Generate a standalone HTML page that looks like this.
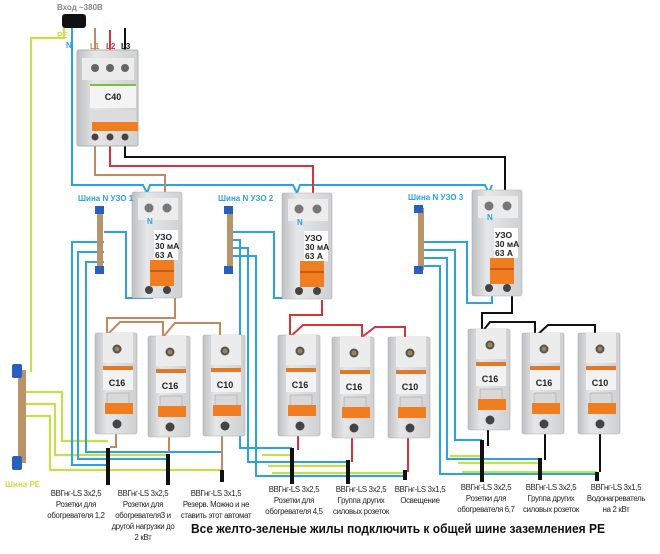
<!DOCTYPE html>
<html><head><meta charset="utf-8"><style>
html,body{margin:0;padding:0;background:#fff;}
svg{display:block;font-family:"Liberation Sans","DejaVu Sans",sans-serif;}
</style></head><body>
<svg width="660" height="554" viewBox="0 0 660 554" xmlns="http://www.w3.org/2000/svg">
<defs>
<linearGradient id="gb" x1="0" x2="1" y1="0" y2="0">
<stop offset="0" stop-color="#bfc0c2"/><stop offset="0.3" stop-color="#e6e7e8"/><stop offset="1" stop-color="#cfd0d2"/></linearGradient>
<g id="b1">
<rect x="0" y="0" width="42" height="101" rx="2" fill="url(#gb)" stroke="#b0b0b0" stroke-width="0.6"/>
<rect x="8" y="0" width="30" height="30" fill="#ececec"/>
<circle cx="22" cy="16" r="4.5" fill="#555"/><circle cx="22" cy="16" r="2.5" fill="#a08050"/>
<rect x="8" y="33" width="30" height="4" fill="#e07a2a"/>
<rect x="8" y="37" width="30" height="20" fill="#f2f2f2"/>
<rect x="12" y="60" width="22" height="12" fill="#d8d8d8" stroke="#999" stroke-width="0.5"/>
<rect x="10" y="70" width="28" height="11" fill="#f07d1f"/>
<circle cx="22" cy="91" r="4.5" fill="#444"/>
</g>
<g id="b2">
<rect x="0" y="0" width="50" height="106" rx="2" fill="url(#gb)" stroke="#b0b0b0" stroke-width="0.6"/>
<rect x="6" y="6" width="40" height="22" fill="#ececec"/>
<circle cx="17" cy="16" r="4.5" fill="#777"/><circle cx="35" cy="16" r="4.5" fill="#777"/>
<rect x="22" y="38" width="24" height="30" fill="#fff"/>
<rect x="18" y="68" width="24" height="26" fill="#f07d1f"/>
<rect x="18" y="78" width="24" height="2" fill="#c95c10"/>
<circle cx="17" cy="98" r="4" fill="#444"/><circle cx="35" cy="98" r="4" fill="#444"/>
</g>
</defs>

<g fill="none" stroke="#c5e04a" stroke-width="2.2">
<path d="M64 28 V38 H31 V372"/>
<path d="M26 392 H62 V441 H108"/>
<path d="M26 404 H55 V455 H168"/>
<path d="M26 416 H50 V470 H222"/>
<path d="M262 455 H292 M268 466 H348 M272 473 H405"/>
<path d="M450 456 H482 M458 463 H540 M462 472 H597"/>
</g>

<g fill="none" stroke="#2aa3e0" stroke-width="2">
<path d="M72 28 V185 H143 L147 193 L150 185 H293 L297 193 L300 185 H485 L489 193 L492 185"/>
<path d="M104 232 H126 V298 H152 V292"/>
<path d="M104 242 H72 V465 H108"/>
<path d="M104 252 H78 V459 H168"/>
<path d="M104 262 H86 V452 H222"/>
<path d="M233 232 H274 V298 H300 V292"/>
<path d="M233 240 H240 V448 H292 M233 248 H248 V462 H348 M233 256 H256 V476 H405"/>
<path d="M424 242 H467 V303 H492 V296"/>
<path d="M424 250 H455 V440 H482 M424 258 H447 V459 H540 M424 266 H440 V474 H597"/>
</g>

<g fill="none" stroke="#c08a5e" stroke-width="2">
<path d="M95 140 V175 H165 V195"/>
<path d="M175 298 V318 H107 V335 L120 322 H163 V337 L175 323 H220 V337"/>
<path d="M116 434 V447 H110 M169 437 V452 M222 436 V470"/>
</g>
<g fill="none" stroke="#d8333a" stroke-width="2">
<path d="M110 140 V166 H313 V195"/>
<path d="M322 300 V315 H290 V337 L303 325 H362 V337 L375 327 H405 V337"/>
<path d="M298 434 V450 M352 436 V462 M408 436 V472"/>
</g>
<g fill="none" stroke="#111" stroke-width="2">
<path d="M125 28 V140 M125 140 V157 H505 V192"/>
<path d="M512 296 V313 H482 V332 L490 322 H535 V337 L548 325 H595 V337"/>
<path d="M488 430 V446 M545 433 V460 M600 433 V472"/>
</g>
<path d="M95 28 V52" stroke="#c08a5e" stroke-width="2" fill="none"/>
<path d="M110 30 V52" stroke="#d8333a" stroke-width="2"/>

<rect x="62" y="14" width="24" height="14" rx="3" fill="#111"/>
<text x="57" y="10" font-size="8" fill="#888" font-weight="bold">Вход ~380В</text>
<text x="57" y="38" font-size="8" fill="#c5e04a" font-weight="bold">PE</text>
<text x="66" y="48" font-size="8" fill="#2aa3e0" font-weight="bold">N</text>
<text x="90" y="49" font-size="8" fill="#c08a5e" font-weight="bold">L1</text>
<text x="106" y="49" font-size="8" fill="#d8333a" font-weight="bold">L2</text>
<text x="121" y="49" font-size="8" fill="#111" font-weight="bold">L3</text>

<rect x="77" y="50" width="61" height="96" rx="2" fill="url(#gb)" stroke="#b0b0b0"/>
<rect x="82" y="58" width="52" height="22" fill="#ececec"/>
<circle cx="95" cy="68" r="4" fill="#666"/><circle cx="110" cy="68" r="4" fill="#666"/><circle cx="125" cy="68" r="4" fill="#666"/>
<rect x="90" y="84" width="46" height="2" fill="#7bbf3a"/>
<rect x="90" y="86" width="46" height="22" fill="#f4f4f4"/>
<text x="113" y="100" font-size="9" font-weight="bold" text-anchor="middle" fill="#222">C40</text>
<rect x="92" y="110" width="44" height="14" fill="#dcdcdc"/>
<rect x="92" y="122" width="46" height="9" fill="#f07d1f"/>
<circle cx="95" cy="137" r="3.5" fill="#444"/><circle cx="110" cy="137" r="3.5" fill="#444"/><circle cx="125" cy="137" r="3.5" fill="#444"/>

<use href="#b2" x="132" y="192"/>
<use href="#b2" x="282" y="193"/>
<use href="#b2" x="472" y="190"/>
<g font-size="8.5" font-weight="bold" fill="#222">
<text x="155" y="240">УЗО</text><text x="155" y="249">30 мА</text><text x="155" y="258">63 А</text>
<text x="305" y="241">УЗО</text><text x="305" y="250">30 мА</text><text x="305" y="259">63 А</text>
<text x="495" y="238">УЗО</text><text x="495" y="247">30 мА</text><text x="495" y="256">63 А</text>
</g>
<g font-size="8" font-weight="bold" fill="#2aa3e0">
<text x="147" y="224">N</text><text x="297" y="225">N</text><text x="487" y="220">N</text>
<text x="78" y="201">Шина N УЗО 1</text><text x="218" y="201">Шина N УЗО 2</text><text x="408" y="200">Шина N УЗО 3</text>
</g>

<g>
<rect x="97" y="210" width="6" height="62" fill="#b89468"/><rect x="95" y="206" width="9" height="8" fill="#2a5fbf"/><rect x="95" y="266" width="9" height="8" fill="#2a5fbf"/>
<rect x="227" y="210" width="6" height="62" fill="#b89468"/><rect x="224" y="206" width="9" height="8" fill="#2a5fbf"/><rect x="224" y="266" width="9" height="8" fill="#2a5fbf"/>
<rect x="418" y="208" width="6" height="62" fill="#b89468"/><rect x="414" y="205" width="9" height="8" fill="#2a5fbf"/><rect x="414" y="266" width="9" height="8" fill="#2a5fbf"/>
<rect x="18" y="370" width="8" height="93" fill="#b89468"/><rect x="12" y="364" width="10" height="14" rx="2" fill="#2a5fbf"/><rect x="12" y="456" width="10" height="14" rx="2" fill="#2a5fbf"/>
</g>
<text x="5" y="487" font-size="8" font-weight="bold" fill="#c5e04a">Шина PE</text>

<use href="#b1" x="95" y="333"/><use href="#b1" x="148" y="336"/><use href="#b1" x="203" y="335"/>
<use href="#b1" x="278" y="335"/><use href="#b1" x="332" y="337"/><use href="#b1" x="388" y="337"/>
<use href="#b1" x="468" y="329"/><use href="#b1" x="522" y="333"/><use href="#b1" x="578" y="333"/>
<g font-size="9" font-weight="bold" fill="#222" text-anchor="middle">
<text x="117" y="386">C16</text><text x="170" y="389">C16</text><text x="225" y="388">C10</text>
<text x="300" y="388">C16</text><text x="354" y="390">C16</text><text x="410" y="390">C10</text>
<text x="490" y="382">C16</text><text x="544" y="386">C16</text><text x="600" y="386">C10</text>
</g>

<g stroke="#111" stroke-width="4">
<path d="M108 448 V485 M168 454 V485 M222 470 V482 M292 448 V484 M348 460 V484 M405 470 V480 M482 440 V482 M540 458 V480 M597 472 V481"/>
</g>

<g font-size="7.8" fill="#222" text-anchor="middle" letter-spacing="-0.3">
<text x="76" y="496">ВВГнг-LS 3х2,5</text><text x="76" y="507">Розетки для</text><text x="76" y="518">обогревателя 1,2</text>
<text x="143" y="496">ВВГнг-LS 3х2,5</text><text x="143" y="507">Розетки для</text><text x="143" y="518">обогревателя3  и</text><text x="143" y="529">другой нагрузки до</text><text x="143" y="540">2 кВт</text>
<text x="216" y="496">ВВГнг-LS 3х1,5</text><text x="216" y="507">Резерв. Можно и не</text><text x="216" y="518">ставить этот автомат</text>
<text x="294" y="492">ВВГнг-LS 3х2,5</text><text x="294" y="503">Розетки для</text><text x="294" y="514">обогревателя 4,5</text>
<text x="361" y="492">ВВГнг-LS 3х2,5</text><text x="361" y="503">Группа других</text><text x="361" y="514">силовых розеток</text>
<text x="420" y="492">ВВГнг-LS 3х1,5</text><text x="420" y="503">Освещение</text>
<text x="486" y="490">ВВГнг-LS 3х2,5</text><text x="486" y="501">Розетки для</text><text x="486" y="512">обогревателя 6,7</text>
<text x="551" y="490">ВВГнг-LS 3х2,5</text><text x="551" y="501">Группа других</text><text x="551" y="512">силовых розеток</text>
<text x="616" y="490">ВВГнг-LS 3х1,5</text><text x="616" y="501">Водонагреватель</text><text x="616" y="512">на 2 кВт</text>
</g>
<text x="191" y="533" font-size="12.5" font-weight="bold" fill="#111" textLength="414" lengthAdjust="spacingAndGlyphs">Все желто-зеленые жилы подключить к общей шине заземлениея PE</text>
</svg>
</body></html>
